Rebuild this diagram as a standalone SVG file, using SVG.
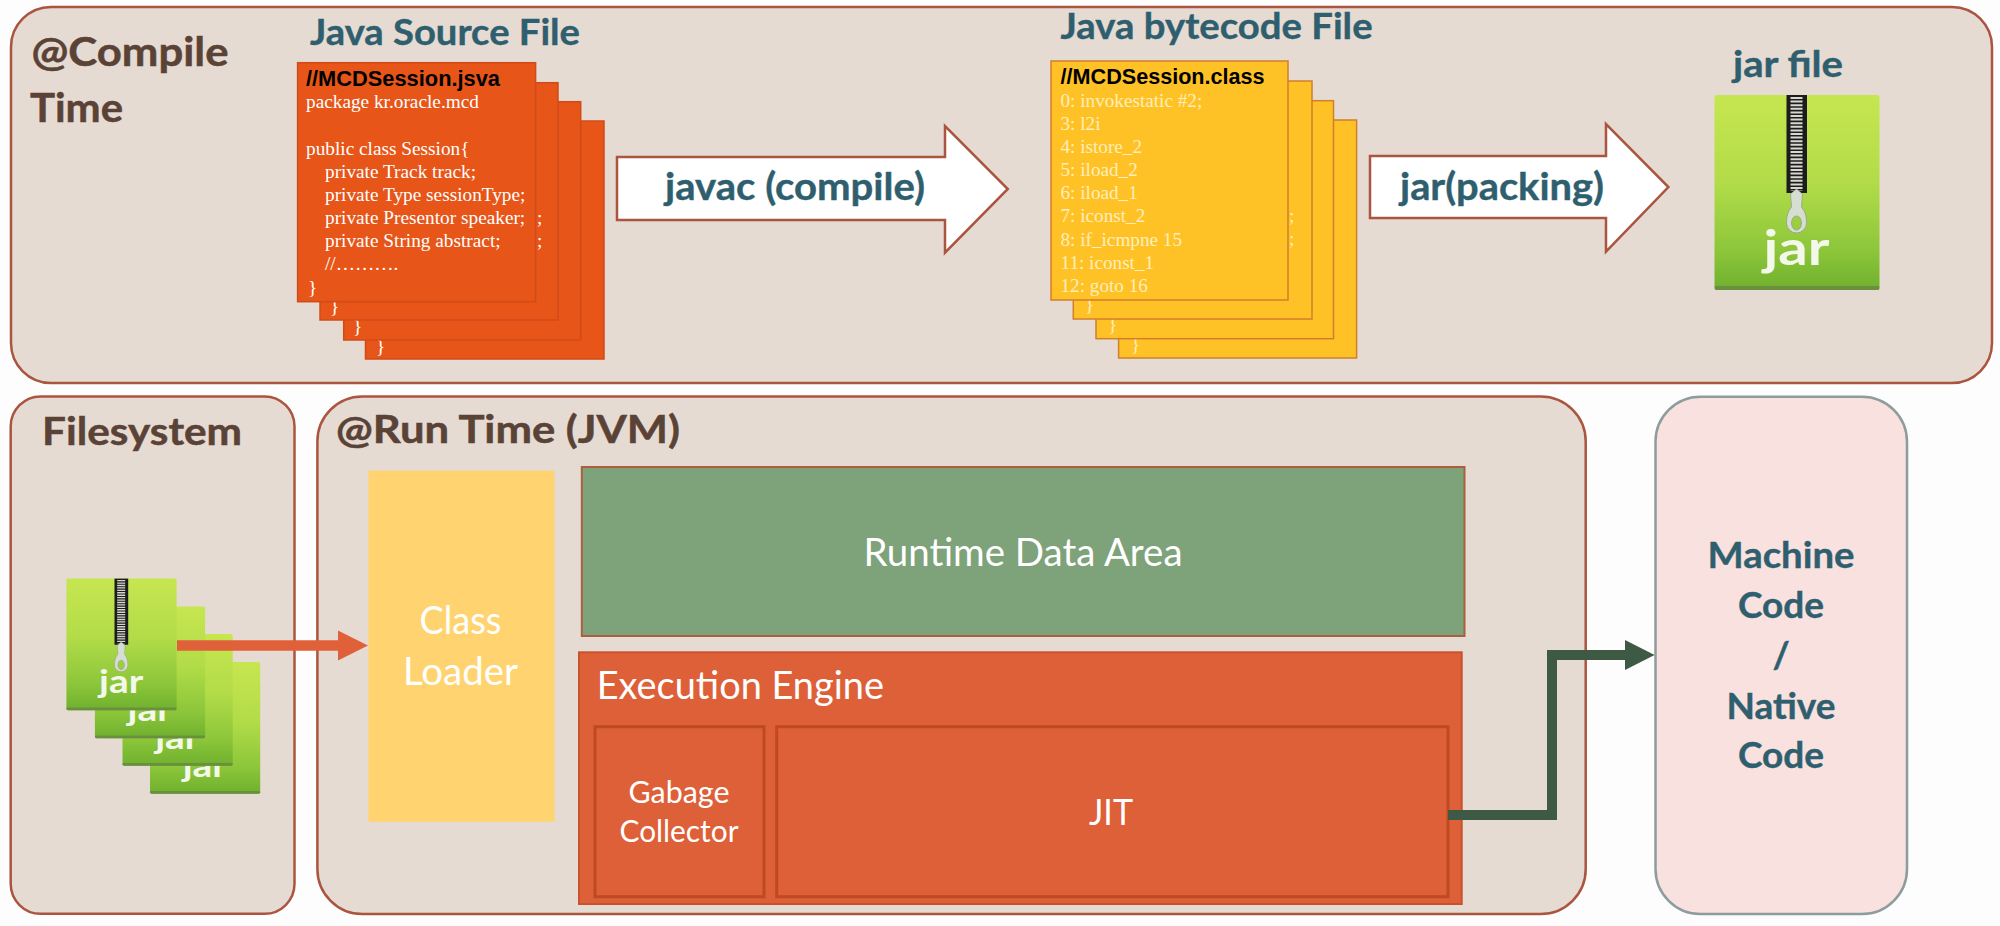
<svg xmlns="http://www.w3.org/2000/svg" width="2000" height="926" viewBox="0 0 2000 926">
<style>
.panel{fill:#e6dbd2;stroke:#a9553f;stroke-width:2.5}
.title{font-family:Lato,"Open Sans",sans-serif;font-weight:700;fill:#2f5f6f;stroke:#2f5f6f;stroke-width:.4}
.brown{font-family:Lato,"Open Sans",sans-serif;font-weight:700;fill:#5a4336;stroke:#5a4336;stroke-width:.5}
.wt{font-family:Lato,"Open Sans",sans-serif;fill:#fff}
.src{fill:#e85518;stroke:#cf4c1a;stroke-width:1.5}
.byt{fill:#ffc226;stroke:#d27f2d;stroke-width:1.5}
.head{font-family:"Liberation Sans",Arial,sans-serif;font-weight:700;font-size:22px;fill:#000}
.code{font-family:"Liberation Serif","Times New Roman",serif;font-size:19.3px;fill:#fff}
.codey{font-family:"Liberation Serif","Times New Roman",serif;font-size:19.2px;fill:#ffeebb}
.arrow{fill:#fff;stroke:#a9553f;stroke-width:2.5}
</style>
<defs>
<linearGradient id="jg" x1="0" y1="0" x2="0" y2="1">
<stop offset="0" stop-color="#c6e650"/><stop offset="0.45" stop-color="#b2dc48"/><stop offset="0.8" stop-color="#8cc63a"/><stop offset="1" stop-color="#6fb02e"/>
</linearGradient>
<g id="jarIcon">
<rect x="0" y="0" width="165" height="195" rx="3" fill="url(#jg)"/>
<rect x="0" y="191" width="165" height="4" rx="2" fill="#6a8f3e"/>
<rect x="72" y="0" width="20.5" height="98" fill="#1c1c1c"/>
<line x1="82" y1="2" x2="82" y2="96" stroke="#d8d8d0" stroke-width="12" stroke-dasharray="2 1.6"/>
<path fill-rule="evenodd" d="M76 99l6-5 6 5-1 13c4 5 5 10 5 16a10 10 0 0 1-20 0c0-6 1-11 5-16zM82 121a5 7 0 1 0 .01 0z" fill="#d6ded2" stroke="#93a08c" stroke-width=".8"/>
<text x="82" y="170" text-anchor="middle" font-family="Lato,'Open Sans',sans-serif" font-weight="700" font-size="48" fill="#f4f8ea" textLength="66" lengthAdjust="spacingAndGlyphs">jar</text>
</g>
</defs>
<rect width="2000" height="926" fill="#fdfdfd"/>

<g id="compile-panel">
<rect class="panel" x="11" y="7" width="1981" height="376" rx="40"/>
<text class="brown" font-size="40" x="31.5" y="66" textLength="197" lengthAdjust="spacingAndGlyphs">@Compile</text>
<text class="brown" font-size="40" x="30" y="121.7" textLength="93" lengthAdjust="spacingAndGlyphs">Time</text>
</g>

<g id="source-file">
<text class="title" font-size="36" x="310" y="45" textLength="270" lengthAdjust="spacingAndGlyphs">Java Source File</text>
<rect class="src" x="365.5" y="121" width="238.5" height="238"/>
<text class="code" x="376" y="353">}</text>
<rect class="src" x="343.7" y="101.7" width="237" height="238.3"/>
<text class="code" x="353" y="333">}</text>
<rect class="src" x="320" y="82.7" width="238" height="237.3"/>
<text class="code" x="330" y="313">}</text>
<text class="code" x="537" y="223.7">;</text>
<text class="code" x="537" y="246.7">;</text>
<rect class="src" x="297.6" y="62.7" width="238" height="239"/>
<text class="head" x="306" y="86" textLength="194" lengthAdjust="spacingAndGlyphs">//MCDSession.jsva</text>
<text class="code" x="306" y="108">package kr.oracle.mcd</text>
<text class="code" x="306" y="154.5">public class Session{</text>
<text class="code" x="325" y="177.7">private Track track;</text>
<text class="code" x="325" y="200.7">private Type sessionType;</text>
<text class="code" x="325" y="223.7">private Presentor speaker;</text>
<text class="code" x="325" y="246.7">private String abstract;</text>
<text class="code" x="325" y="270">//……….</text>
<text class="code" x="308" y="294">}</text>
</g>

<g id="javac-arrow">
<path class="arrow" d="M617 157H945V126L1007.8 189L945 252.7V220H617Z"/>
<text class="title" font-size="38" x="665" y="200" textLength="260" lengthAdjust="spacingAndGlyphs">javac (compile)</text>
</g>

<g id="bytecode-file">
<text class="title" font-size="36" x="1060.6" y="39" textLength="312" lengthAdjust="spacingAndGlyphs">Java bytecode File</text>
<rect class="byt" x="1118.6" y="120" width="238" height="238"/>
<text class="codey" x="1131" y="351">}</text>
<rect class="byt" x="1096" y="100.7" width="237.5" height="238"/>
<text class="codey" x="1108" y="331">}</text>
<rect class="byt" x="1073.3" y="81" width="238.7" height="238"/>
<text class="codey" x="1085" y="311">}</text>
<text class="codey" x="1289" y="222">;</text>
<text class="codey" x="1289" y="245">;</text>
<rect class="byt" x="1051" y="61" width="237" height="239"/>
<text class="head" x="1060.6" y="84" textLength="204" lengthAdjust="spacingAndGlyphs">//MCDSession.class</text>
<text class="codey" x="1060.5" y="107">0: invokestatic #2;</text>
<text class="codey" x="1060.5" y="130">3: l2i</text>
<text class="codey" x="1060.5" y="153">4: istore_2</text>
<text class="codey" x="1060.5" y="176">5: iload_2</text>
<text class="codey" x="1060.5" y="199">6: iload_1</text>
<text class="codey" x="1060.5" y="222">7: iconst_2</text>
<text class="codey" x="1060.5" y="245.5">8: if_icmpne 15</text>
<text class="codey" x="1060.5" y="268.7">11: iconst_1</text>
<text class="codey" x="1060.5" y="291.7">12: goto 16</text>
</g>

<g id="jar-arrow">
<path class="arrow" d="M1370 156H1606V124L1668.4 187L1606 251.7V218H1370Z"/>
<text class="title" font-size="38" x="1400" y="200" textLength="204" lengthAdjust="spacingAndGlyphs">jar(packing)</text>
</g>

<g id="jar-file">
<text class="title" font-size="36" x="1733" y="76.7" textLength="110" lengthAdjust="spacingAndGlyphs">jar file</text>
<use href="#jarIcon" x="1714.5" y="95"/>
</g>

<g id="filesystem">
<rect class="panel" x="10.7" y="396.4" width="283.8" height="517.4" rx="30"/>
<text class="brown" font-size="39" x="42" y="445" textLength="200" lengthAdjust="spacingAndGlyphs">Filesystem</text>
<use href="#jarIcon" transform="translate(150 662) scale(0.668 0.675)"/>
<use href="#jarIcon" transform="translate(122.5 634) scale(0.668 0.675)"/>
<use href="#jarIcon" transform="translate(94.9 606.5) scale(0.668 0.675)"/>
<use href="#jarIcon" transform="translate(66.4 578.6) scale(0.668 0.675)"/>
</g>

<g id="runtime-panel">
<rect class="panel" x="317.4" y="396.4" width="1268.3" height="517.6" rx="45"/>
<text class="brown" font-size="39" x="336" y="442.7" textLength="344" lengthAdjust="spacingAndGlyphs">@Run Time (JVM)</text>
</g>

<g id="class-loader">
<rect x="368.4" y="470.6" width="186.1" height="351.2" fill="#ffd470"/>
<text class="wt" font-size="38" x="460.5" y="633.6" text-anchor="middle" textLength="82" lengthAdjust="spacingAndGlyphs">Class</text>
<text class="wt" font-size="38" x="460.5" y="685" text-anchor="middle" textLength="115" lengthAdjust="spacingAndGlyphs">Loader</text>
</g>

<g id="runtime-data-area">
<rect x="581.8" y="467" width="882.7" height="169" fill="#7ea27a" stroke="#a9603f" stroke-width="2"/>
<text class="wt" font-size="38" x="1023" y="566" text-anchor="middle" textLength="319" lengthAdjust="spacingAndGlyphs">Runtime Data Area</text>
</g>

<g id="execution-engine">
<rect x="579" y="652.3" width="882.7" height="251.7" fill="#de6038" stroke="#c9512c" stroke-width="2"/>
<text class="wt" font-size="38" x="596.7" y="699" textLength="287.3" lengthAdjust="spacingAndGlyphs">Execution Engine</text>
</g>
<g id="gabage-collector">
<rect x="595" y="726.7" width="169" height="170" fill="#de6038" stroke="#bf4a22" stroke-width="3"/>
<text class="wt" font-size="30" x="679" y="803" text-anchor="middle" textLength="101" lengthAdjust="spacingAndGlyphs">Gabage</text>
<text class="wt" font-size="30" x="679" y="841.7" text-anchor="middle" textLength="119" lengthAdjust="spacingAndGlyphs">Collector</text>
</g>
<g id="jit">
<rect x="776.7" y="726.7" width="671.3" height="170" fill="#de6038" stroke="#bf4a22" stroke-width="3"/>
<text class="wt" font-size="36" x="1111" y="825" text-anchor="middle" textLength="44" lengthAdjust="spacingAndGlyphs">JIT</text>
</g>

<g id="machine-code">
<rect x="1655.5" y="396.7" width="251.5" height="517.3" rx="45" fill="#f8e1de" stroke="#8d9c9c" stroke-width="2.5"/>
<text class="title" font-size="37" x="1781" y="568" text-anchor="middle" textLength="147" lengthAdjust="spacingAndGlyphs">Machine</text>
<text class="title" font-size="37" x="1781" y="617.7" text-anchor="middle">Code</text>
<text class="title" font-size="37" x="1781" y="668" text-anchor="middle">/</text>
<text class="title" font-size="37" x="1781" y="719" text-anchor="middle">Native</text>
<text class="title" font-size="37" x="1781" y="768" text-anchor="middle">Code</text>
</g>

<g id="connectors">
<path d="M177 645.5H340" fill="none" stroke="#e0603a" stroke-width="10.5"/>
<path d="M338 630.5L368 645.5L338 660.5Z" fill="#e0603a"/>
<path d="M1448 815H1552V655H1627" fill="none" stroke="#3e5a45" stroke-width="10"/>
<path d="M1625 640L1654.6 655L1625 670Z" fill="#3e5a45"/>
</g>
</svg>
